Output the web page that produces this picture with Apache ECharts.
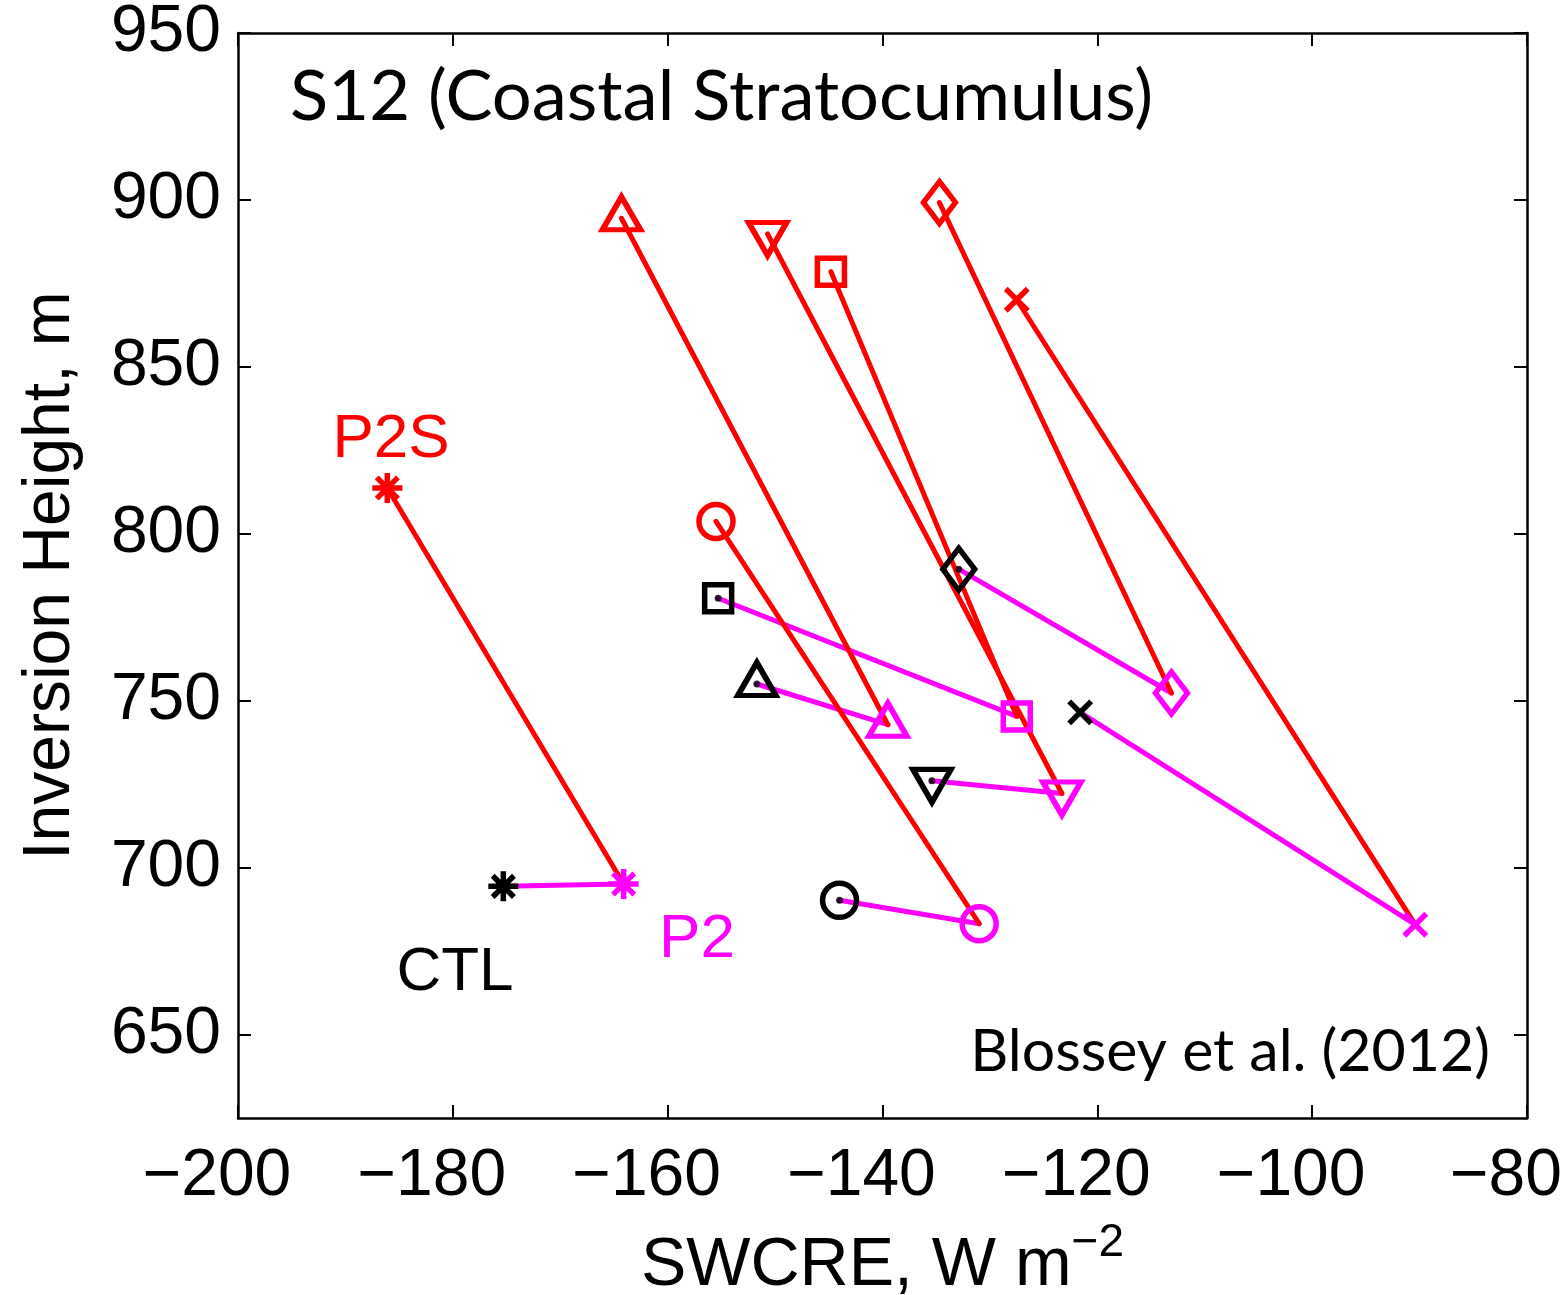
<!DOCTYPE html>
<html>
<head>
<meta charset="utf-8">
<title>S12 Coastal Stratocumulus</title>
<script src="https://cdn.jsdelivr.net/npm/echarts@6/dist/echarts.min.js"></script>
<style>
  html, body { margin: 0; padding: 0; background: #fff; }
  #chart { width: 1568px; height: 1295px; }
</style>
</head>
<body>
<div id="chart"></div>
<script>
// 七组试验：CTL -> P2 -> P2S
const shapes = ["asterisk", "circle", "square", "triUp", "triDown", "diamond", "cross"];

const ctlX = [-175.3, -144.0, -155.3, -151.7, -135.4, -132.9, -121.6];
const ctlY = [694.4, 690.2, 780.7, 755.0, 726.0, 789.4, 746.5];

const p2X = [-164.1, -131.0, -127.5, -139.5, -123.3, -113.1, -90.4];
const p2Y = [695.1, 683.2, 745.3, 742.8, 722.2, 752.3, 682.9];

const p2sX = [-186.1, -155.5, -144.8, -164.3, -150.7, -134.7, -127.5];
const p2sY = [813.7, 803.7, 878.5, 894.5, 889.8, 899.2, 870.1];

const yTicks = [650, 700, 750, 800, 850, 900, 950];

// 颜色
const BLACK = "#000000";
const MAGENTA = "#ff00ff";
const RED = "#ff0000";

// 符号（MATLAB 风格空心标记）
const SYMBOLS = {
  asterisk: { symbol: "path://M5,0L5,10M0,5L10,5M1.46,1.46L8.54,8.54M8.54,1.46L1.46,8.54", symbolSize: 30 },
  circle: { symbol: "circle", symbolSize: 34 },
  square: { symbol: "rect", symbolSize: 27 },
  triUp: { symbol: "path://M5,0L10,8.66L0,8.66Z", symbolSize: [38, 33], symbolOffset: [0, -5] },
  triDown: { symbol: "path://M0,0L10,0L5,8.66Z", symbolSize: [38, 33], symbolOffset: [0, 5] },
  diamond: { symbol: "diamond", symbolSize: [32, 42] },
  cross: { symbol: "path://M0,0L10,10M10,0L0,10", symbolSize: 22 },
};

function markerSeries(name, xs, ys, color) {
  return {
    name: name,
    type: "scatter",
    z: 5,
    silent: true,
    data: xs.map((x, i) => Object.assign({ value: [x, ys[i]] }, SYMBOLS[shapes[i]])),
    itemStyle: { color: "rgba(0,0,0,0)", borderColor: color, borderWidth: 5.5, opacity: 1 },
  };
}

function segments(ax, ay, bx, by) {
  return ax.map((x, i) => ({ coords: [[x, ay[i]], [bx[i], by[i]]] }));
}

const chart = echarts.init(document.getElementById("chart"));

const FONT = "Liberation Sans, Arial, sans-serif";
const axisLine = { show: true, onZero: false, lineStyle: { color: BLACK, width: 2.5 } };
const axisTick = { show: true, inside: true, length: 13, lineStyle: { color: BLACK, width: 2 } };
const labelFont = { color: BLACK, fontSize: 66, fontFamily: FONT };
const minus = v => (v < 0 ? "\u2212" + Math.abs(v) : String(v));

chart.setOption({
  animation: false,
  backgroundColor: "#fff",
  grid: { left: 238, right: 41, top: 33, bottom: 177, outerBoundsMode: "none", containLabel: false },
  xAxis: [
    {
      type: "value", min: -200, max: -80, interval: 20, position: "bottom",
      axisLine, axisTick, splitLine: { show: false },
      axisLabel: Object.assign({ margin: 26, formatter: minus, padding: [0, 42, 0, 0] }, labelFont),
      name: "{a|SWCRE, W m}{s|\u22122}",
      nameLocation: "middle",
      nameGap: 102,
      nameTextStyle: {
        rich: {
          a: { fontSize: 68, color: BLACK, fontFamily: FONT, lineHeight: 80, verticalAlign: "bottom" },
          s: { fontSize: 46, color: BLACK, fontFamily: FONT, lineHeight: 46, verticalAlign: "top" },
        },
      },
    },
    {
      type: "value", min: -200, max: -80, interval: 20, position: "top",
      axisLine, axisTick, axisLabel: { show: false }, splitLine: { show: false },
    },
  ],
  yAxis: [
    {
      type: "value", min: 625, max: 950, position: "left",
      axisLine, splitLine: { show: false },
      axisTick: Object.assign({ customValues: yTicks }, axisTick),
      axisLabel: Object.assign({ margin: 17, customValues: yTicks }, labelFont),
      name: "Inversion Height, m",
      nameLocation: "middle",
      nameGap: 154,
      nameTextStyle: { color: BLACK, fontSize: 66, fontFamily: FONT },
    },
    {
      type: "value", min: 625, max: 950, position: "right",
      axisLine, splitLine: { show: false },
      axisTick: Object.assign({ customValues: yTicks }, axisTick),
      axisLabel: { show: false },
    },
  ],
  series: [
    {
      type: "lines", coordinateSystem: "cartesian2d", z: 2, silent: true,
      lineStyle: { color: MAGENTA, width: 5, opacity: 1, cap: "round" },
      data: segments(ctlX, ctlY, p2X, p2Y),
    },
    {
      type: "lines", coordinateSystem: "cartesian2d", z: 3, silent: true,
      lineStyle: { color: RED, width: 5, opacity: 1, cap: "round" },
      data: segments(p2X, p2Y, p2sX, p2sY),
    },
    markerSeries("CTL", ctlX, ctlY, BLACK),
    markerSeries("P2", p2X, p2Y, MAGENTA),
    markerSeries("P2S", p2sX, p2sY, RED),
    {
      // CTL 标记中心的小黑点
      type: "scatter", z: 6, silent: true,
      symbol: "circle", symbolSize: 7,
      itemStyle: { color: BLACK },
      data: ctlX.map((x, i) => [x, ctlY[i]]).filter((d, i) => shapes[i] !== "asterisk" && shapes[i] !== "cross"),
    },
  ],
  graphic: [
    { type: "text", z: 10, style: { text: "S12 (Coastal Stratocumulus)", x: 290, y: 97, align: "left", verticalAlign: "middle", fill: BLACK, fontSize: 70.5, fontFamily: "Lato, sans-serif" } },
    { type: "text", z: 10, style: { text: "Blossey et al. (2012)", x: 1490, y: 1052, align: "right", verticalAlign: "middle", fill: BLACK, fontSize: 59, fontFamily: "Lato, sans-serif" } },
    { type: "text", z: 10, style: { text: "P2S", x: 391, y: 440, align: "center", verticalAlign: "middle", fill: RED, fontSize: 62, fontFamily: FONT } },
    { type: "text", z: 10, style: { text: "P2", x: 697, y: 940, align: "center", verticalAlign: "middle", fill: MAGENTA, fontSize: 62, fontFamily: FONT } },
    { type: "text", z: 10, style: { text: "CTL", x: 455, y: 973, align: "center", verticalAlign: "middle", fill: BLACK, fontSize: 62, fontFamily: FONT } },
  ],
});
</script>
</body>
</html>
